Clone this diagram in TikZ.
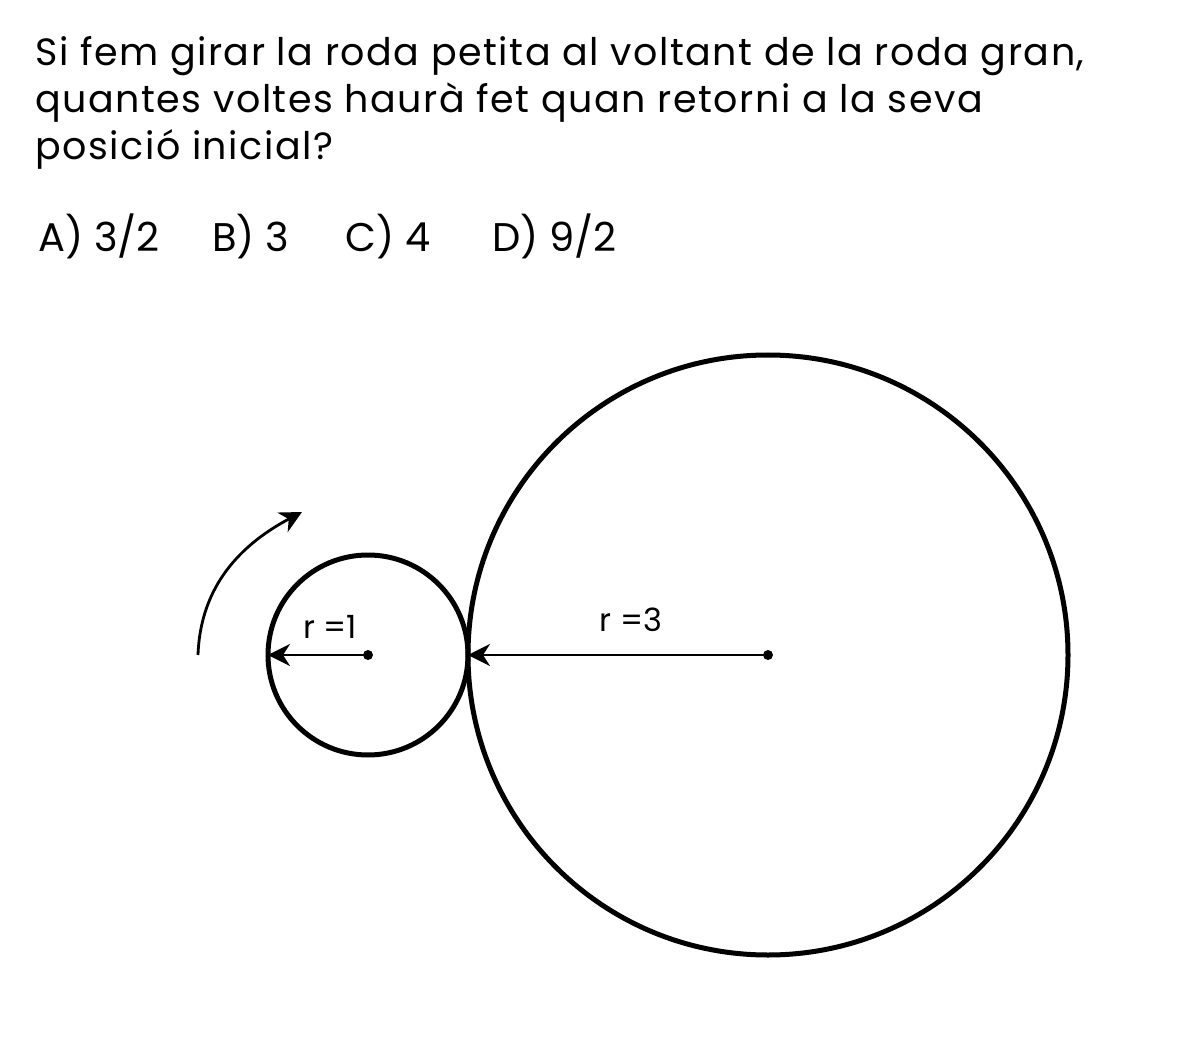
\documentclass[tikz,border=0pt]{standalone}
\usepackage{fontspec}
\setmainfont{Poppins}
\newfontfamily\questionfont{Poppins}[LetterSpace=4]
\usetikzlibrary{arrows.meta}

\tikzset{
	wheel/.style={draw, circle, line width=2.5pt, inner sep=0pt, outer sep=0pt},
	radius/.style={line width=1.4pt, -{Stealth[length=11pt, width=11pt, inset=3.5pt]}},
	lbl/.style={anchor=base, font=\fontsize{16}{18}\selectfont, inner sep=0pt},
	opt/.style={anchor=base west, font=\fontsize{20}{24}\selectfont, inner sep=0pt},
}

\begin{document}
\begin{tikzpicture}[x=0.5pt,y=0.5pt]
	\useasboundingbox (0,0) rectangle (1200,1057);
	% question
	\node [anchor=base west, align=left, inner sep=0pt,
		font=\questionfont\fontsize{19}{23.5}\selectfont] (question) at (35,897)
		{Si fem girar la roda petita al voltant de la roda gran,\\
		quantes voltes haurà fet quan retorni a la seva\\
		posició inicial?};
	% options
	\node [opt] (optA) at (38,805) {A) 3/2};
	\node [opt] (optB) at (212,805) {B) 3};
	\node [opt] (optC) at (345,805) {C) 4};
	\node [opt] (optD) at (492,805) {D) 9/2};
	% wheels
	\node [wheel, minimum size=100pt] (small) at (368,402) {};
	\node [wheel, minimum size=300pt] (big) at (768,402) {};
	\fill (small.center) circle (2.5pt);
	\fill (big.center) circle (2.5pt);
	\draw [radius] (small.center) -- (small.west);
	\draw [radius] (big.center) -- (big.west);
	\node [lbl] (r1) at (330,419) {r =1};
	\node [lbl] (r3) at (631,426) {r =3};
	% rotation
	\coordinate (turnA) at (198,402);
	\coordinate (turnB) at (302,545);
	\draw [line width=1.4pt, -{Stealth[length=11pt, width=11pt, inset=3.5pt]}]
		(turnA) to[out=88, in=208] (turnB);
\end{tikzpicture}
\end{document}
